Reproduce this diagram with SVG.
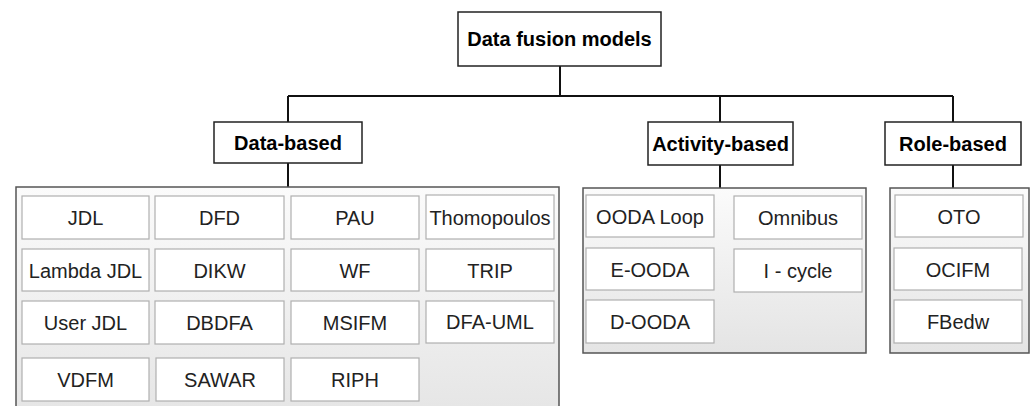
<svg xmlns="http://www.w3.org/2000/svg" width="1030" height="406" viewBox="0 0 1030 406">
<defs>
<linearGradient id="cg" x1="0" y1="0" x2="0" y2="1">
<stop offset="0" stop-color="#fbfbfb"/>
<stop offset="1" stop-color="#e4e4e4"/>
</linearGradient>
<style>
.main{fill:#fff;stroke:#222;stroke-width:1.5}
.cont{fill:url(#cg);stroke:#555;stroke-width:1.5}
.item{fill:#fff;stroke:#b0b0b0;stroke-width:1.2}
.bt{font-family:"Liberation Sans",Arial,sans-serif;font-weight:bold;font-size:20px;fill:#000;text-anchor:middle}
.it{font-family:"Liberation Sans",Arial,sans-serif;font-size:20px;fill:#222;text-anchor:middle}
.conn{stroke:#111;stroke-width:2;fill:none}
</style>
</defs>
<rect width="1030" height="406" fill="#fff"/>
<g id="connectors">
<path class="conn" d="M560 66V96M288 96H953M288 96V122M720 96V122M953 96V122M288 163V187M720 165V188M953 165V188"/>
</g>
<g id="root">
<rect class="main" x="458" y="12" width="203" height="54"/>
<text class="bt" x="559.5" y="46">Data fusion models</text>
</g>
<g id="data-based">
<rect class="main" x="214" y="122" width="148" height="41"/>
<text class="bt" x="288" y="150">Data-based</text>
</g>
<g id="activity-based">
<rect class="main" x="648" y="122" width="145" height="43"/>
<text class="bt" x="720.5" y="151">Activity-based</text>
</g>
<g id="role-based">
<rect class="main" x="885" y="122" width="136" height="43"/>
<text class="bt" x="953" y="151">Role-based</text>
</g>
<g id="data-container">
<rect class="cont" x="16" y="187" width="543" height="240"/>
</g>
<g id="activity-container">
<rect class="cont" x="583" y="188" width="283" height="165"/>
</g>
<g id="role-container">
<rect class="cont" x="890" y="188" width="139" height="165"/>
</g>
<g id="n-jdl"><rect class="item" x="22" y="196" width="127" height="43"/><text class="it" x="85.5" y="225">JDL</text></g>
<g id="n-dfd"><rect class="item" x="155" y="196" width="129" height="43"/><text class="it" x="219.5" y="225">DFD</text></g>
<g id="n-pau"><rect class="item" x="291" y="196" width="128" height="43"/><text class="it" x="355" y="225">PAU</text></g>
<g id="n-thomopoulos"><rect class="item" x="426" y="195" width="128" height="44"/><text class="it" x="490" y="225">Thomopoulos</text></g>
<g id="n-lambda"><rect class="item" x="22" y="249" width="127" height="42"/><text class="it" x="85.5" y="277.5">Lambda JDL</text></g>
<g id="n-dikw"><rect class="item" x="155" y="249" width="129" height="42"/><text class="it" x="219.5" y="277.5">DIKW</text></g>
<g id="n-wf"><rect class="item" x="291" y="249" width="128" height="42"/><text class="it" x="355" y="277.5">WF</text></g>
<g id="n-trip"><rect class="item" x="426" y="249" width="128" height="42"/><text class="it" x="490" y="277.5">TRIP</text></g>
<g id="n-userjdl"><rect class="item" x="22" y="301" width="127" height="43"/><text class="it" x="85.5" y="330">User JDL</text></g>
<g id="n-dbdfa"><rect class="item" x="155" y="301" width="129" height="43"/><text class="it" x="219.5" y="330">DBDFA</text></g>
<g id="n-msifm"><rect class="item" x="291" y="301" width="128" height="43"/><text class="it" x="355" y="330">MSIFM</text></g>
<g id="n-dfauml"><rect class="item" x="426" y="301" width="128" height="42"/><text class="it" x="490" y="329">DFA-UML</text></g>
<g id="n-vdfm"><rect class="item" x="22" y="358" width="127" height="43"/><text class="it" x="85.5" y="387">VDFM</text></g>
<g id="n-sawar"><rect class="item" x="156" y="358" width="128" height="43"/><text class="it" x="220" y="387">SAWAR</text></g>
<g id="n-riph"><rect class="item" x="291" y="358" width="128" height="43"/><text class="it" x="355" y="387">RIPH</text></g>
<g id="n-ooda"><rect class="item" x="586" y="195" width="128" height="42"/><text class="it" x="650" y="223.5">OODA Loop</text></g>
<g id="n-omnibus"><rect class="item" x="734" y="196" width="128" height="43"/><text class="it" x="798" y="225">Omnibus</text></g>
<g id="n-eooda"><rect class="item" x="586" y="248" width="128" height="42"/><text class="it" x="650" y="276.5">E-OODA</text></g>
<g id="n-icycle"><rect class="item" x="734" y="249" width="128" height="43"/><text class="it" x="798" y="278">I - cycle</text></g>
<g id="n-dooda"><rect class="item" x="586" y="300" width="128" height="43"/><text class="it" x="650" y="329">D-OODA</text></g>
<g id="n-oto"><rect class="item" x="895" y="195" width="128" height="42"/><text class="it" x="959" y="223.5">OTO</text></g>
<g id="n-ocifm"><rect class="item" x="894" y="248" width="128" height="42"/><text class="it" x="958" y="276.5">OCIFM</text></g>
<g id="n-fbedw"><rect class="item" x="894" y="300" width="128" height="43"/><text class="it" x="958" y="329">FBedw</text></g>
</svg>
